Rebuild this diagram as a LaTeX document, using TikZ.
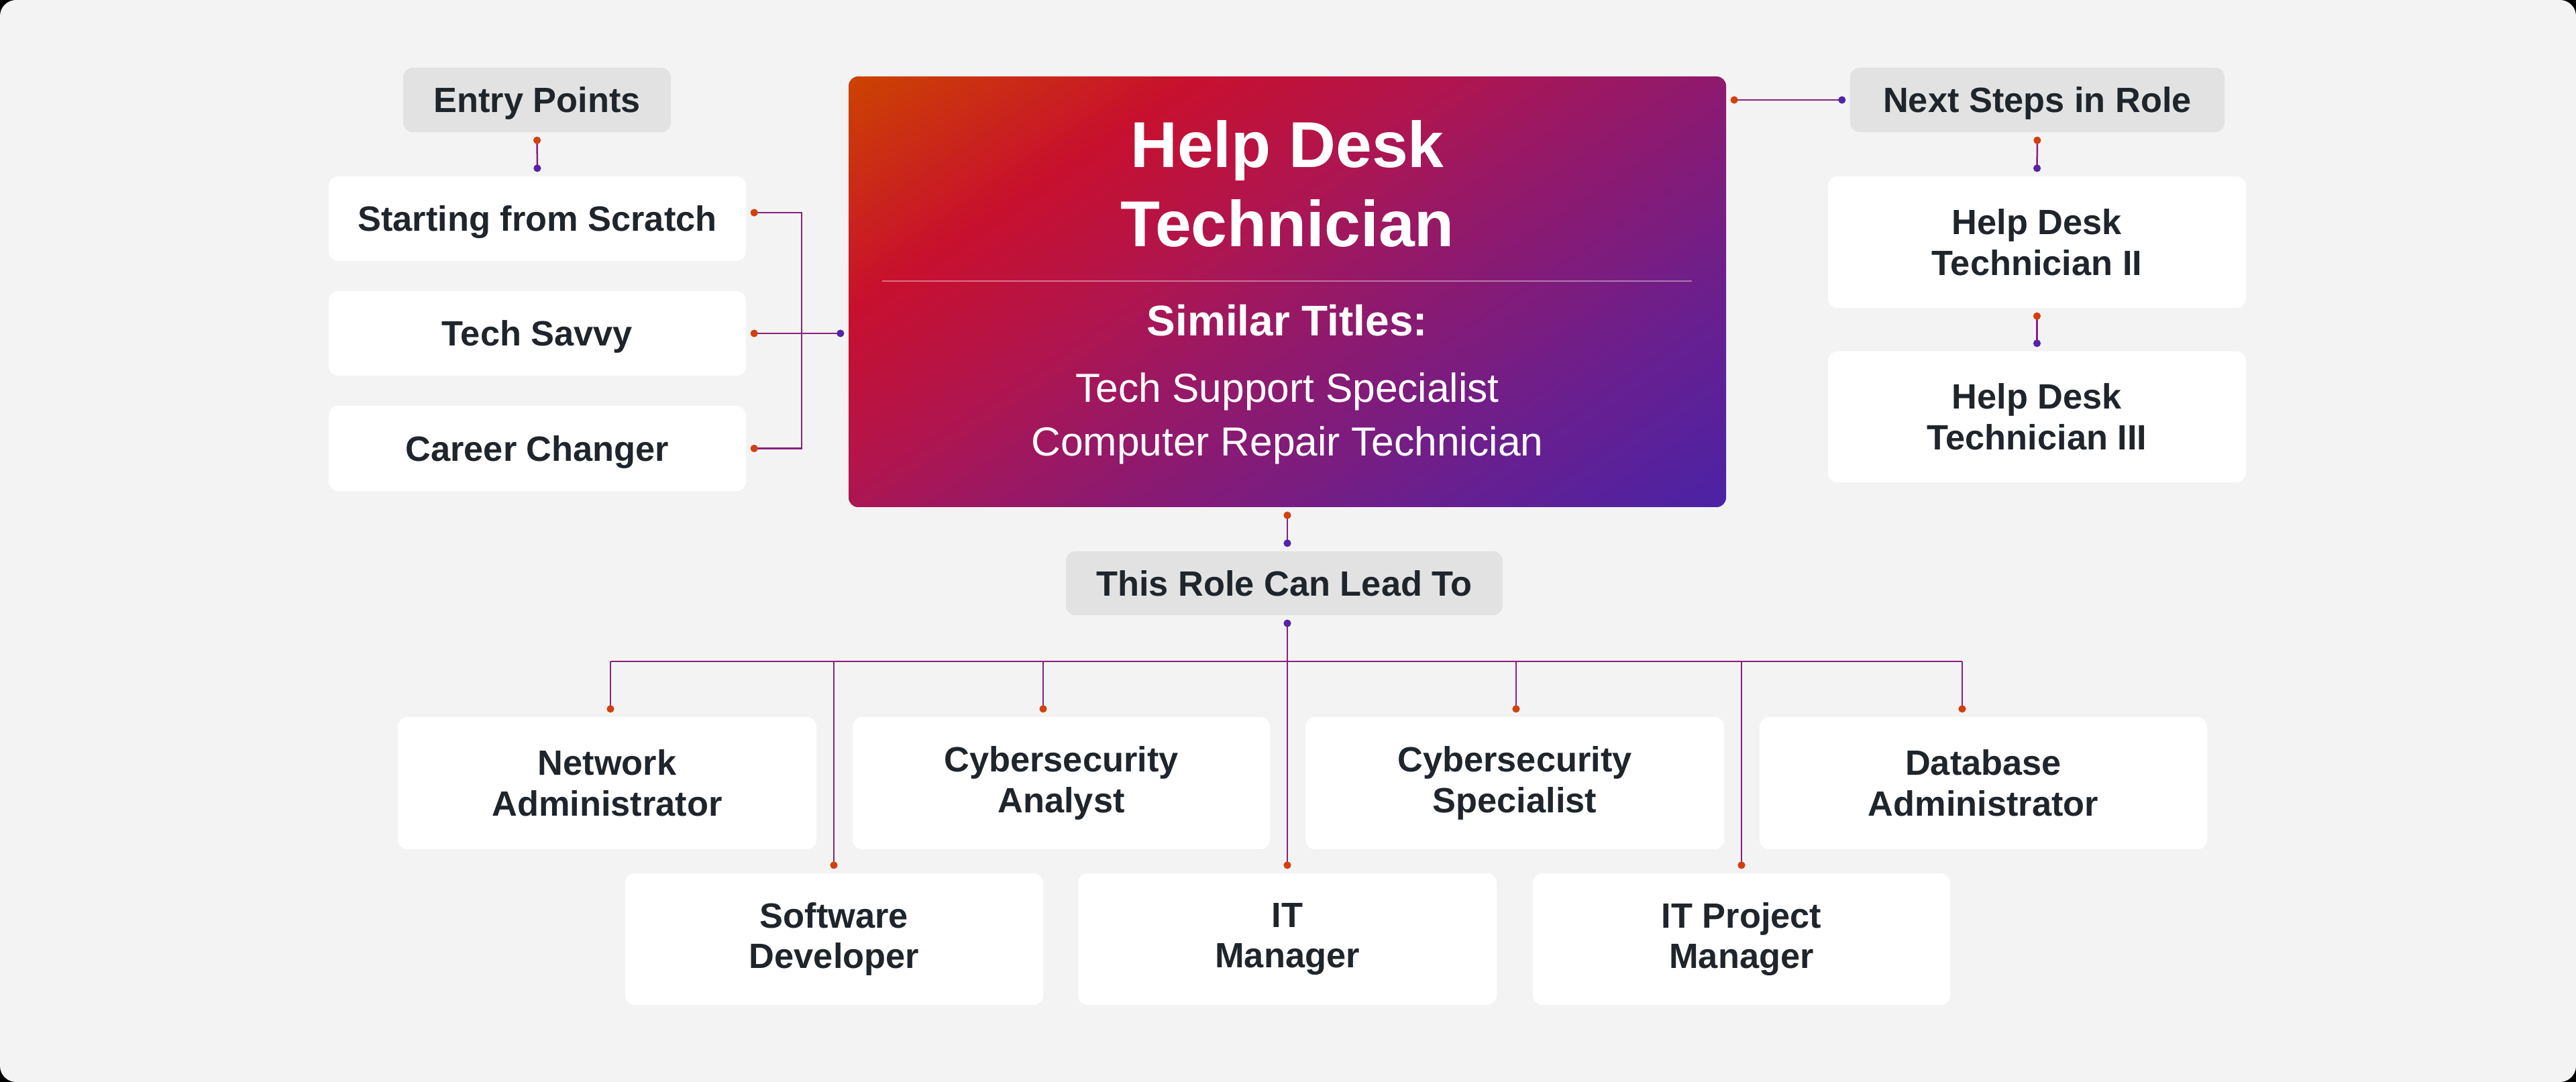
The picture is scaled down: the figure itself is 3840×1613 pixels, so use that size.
\documentclass[tikz,border=0pt]{standalone}
\usepackage{fontspec}
\setmainfont{Liberation Sans}
\usepackage{tikz}
\usetikzlibrary{arrows.meta}
\definecolor{bgcol}{HTML}{F3F3F3}
\definecolor{tagcol}{HTML}{E2E2E2}
\definecolor{inkcol}{HTML}{1F252B}
\definecolor{linkcol}{HTML}{8A1F7C}
\definecolor{dotred}{HTML}{D2400E}
\definecolor{dotblue}{HTML}{5523A8}
\definecolor{gOrange}{HTML}{CC4400}
\definecolor{gRed}{HTML}{C8102E}
\definecolor{gRose}{HTML}{B0154E}
\definecolor{gMag}{HTML}{9C1862}
\definecolor{gPlum}{HTML}{8A1A72}
\definecolor{gViolet}{HTML}{6A1F8E}
\definecolor{gBlue}{HTML}{4A23A6}
\pgfdeclarehorizontalshading{hdtshade}{100bp}{color(0bp)=(gOrange); color(15bp)=(gOrange);
  color(31bp)=(gRed); color(43bp)=(gRose); color(50bp)=(gMag); color(57bp)=(gPlum);
  color(70bp)=(gViolet); color(85bp)=(gBlue); color(100bp)=(gBlue)}
\tikzset{card/.style = {rounded corners=1.4mm, fill=white, inner sep=0pt, align=center,
                        text=inkcol, font=\fontsize{14.9}{17.3}\selectfont\bfseries},
         onerow/.style = {text depth=0pt},
         tag/.style = {card, onerow, fill=tagcol},
         mainbox/.style = {rounded corners=1.4mm, shade, shading=hdtshade, shading angle=-56,
                           inner sep=0pt, minimum width=130.8mm, minimum height=64.2mm},
         titletxt/.style = {text=white, inner sep=0pt, anchor=base,
                            font=\fontsize{27.5}{33.6}\selectfont\bfseries},
         simtxt/.style = {text=white, inner sep=0pt, anchor=base,
                          font=\fontsize{18.2}{21}\selectfont\bfseries},
         subtxt/.style = {text=white, inner sep=0pt, anchor=base,
                          font=\fontsize{17.2}{22.8}\selectfont},
         link/.style = {draw=linkcol, line width=0.25mm},
         dotlink/.style = {link, {Circle[color=dotred,length=1.1mm]}-{Circle[color=dotblue,length=1.1mm]},
                           shorten <=0.6mm, shorten >=0.6mm},
         redstart/.style = {link, {Circle[color=dotred,length=1.1mm]}-, shorten <=0.6mm},
         bluestart/.style = {link, {Circle[color=dotblue,length=1.1mm]}-, shorten <=0.6mm},
         drop/.style = {link, -{Circle[color=dotred,length=1.1mm]}, shorten >=0.6mm}}

\begin{document}
\begin{tikzpicture}[x=0.1mm, y=-0.1mm]
    \useasboundingbox (0,0) rectangle (3840,1613);
    \fill [black] (0,0) rectangle (3840,1613);
    \fill [bgcol, rounded corners=2.4mm] (0,0) rectangle (3840,1613);

    % entry points
    \node [tag, minimum width=39.9mm, minimum height=9.6mm] (entry) at (800.5,149) {Entry Points};
    \node [card, onerow, minimum width=62.2mm, minimum height=12.6mm] (start) at (801,326) {Starting from Scratch};
    \node [card, onerow, minimum width=62.2mm, minimum height=12.6mm] (savvy) at (801,497) {Tech Savvy};
    \node [card, onerow, minimum width=62.2mm, minimum height=12.7mm] (changer) at (801,668.5) {Career Changer};

    % the role itself
    \node [mainbox] (main) at (1919,435) {};
    \node [titletxt] (ttlA) at (1919,250) {Help Desk};
    \node [titletxt] (ttlB) at (1919,368) {Technician};
    \draw [white, opacity=0.4, line width=0.2mm] (1315,419) -- (2522,419);
    \node [simtxt] (sim) at (1919,501) {Similar Titles:};
    \node [subtxt] (subA) at (1919,600) {Tech Support Specialist};
    \node [subtxt] (subB) at (1919,680) {Computer Repair Technician};

    % next steps
    \node [tag, minimum width=55.8mm, minimum height=9.6mm] (next) at (3037,149) {Next Steps in Role};
    \node [card, minimum width=62.3mm, minimum height=19.6mm] (hdt2) at (3036.5,361) {Help Desk\\Technician II};
    \node [card, minimum width=62.3mm, minimum height=19.5mm] (hdt3) at (3036.5,621.5) {Help Desk\\Technician III};

    % can lead to
    \node [tag, minimum width=65.1mm, minimum height=9.5mm] (lead) at (1914.5,869.5) {This Role Can Lead To};
    \node [card, minimum width=62.4mm, minimum height=19.7mm] (network) at (905,1167.5) {Network\\Administrator};
    \node [card, minimum width=62.2mm, minimum height=19.7mm] (analyst) at (1582,1167.5) {Cybersecurity\\Analyst};
    \node [card, minimum width=62.4mm, minimum height=19.7mm] (specialist) at (2258,1167.5) {Cybersecurity\\Specialist};
    \node [card, minimum width=66.7mm, minimum height=19.7mm] (database) at (2956.5,1167.5) {Database\\Administrator};
    \node [card, minimum width=62.3mm, minimum height=19.6mm] (software) at (1243.5,1400) {Software\\Developer};
    \node [card, minimum width=62.4mm, minimum height=19.6mm] (itmgr) at (1919,1400) {IT\\Manager};
    \node [card, minimum width=62.2mm, minimum height=19.6mm] (itproj) at (2596,1400) {IT Project\\Manager};

    % connectors
    \coordinate (lj) at (1195,497);
    \coordinate (bus) at (1919,986);
    \coordinate (busL) at (910,986);
    \coordinate (busR) at (2925,986);

    \draw [dotlink] (entry.south) -- (start.north);
    \draw [redstart] ([yshift=0.9mm]start.east) -| (lj);
    \draw [redstart] (changer.east) -| (lj);
    \draw [dotlink] (savvy.east) -- (main.west |- savvy.east);

    \draw [dotlink] (next.west -| main.east) -- (next.west);
    \draw [dotlink] (next.south) -- (hdt2.north);
    \draw [dotlink] (hdt2.south) -- (hdt3.north);

    \draw [dotlink] (main.south) -- (main.south |- lead.north);
    \draw [bluestart] (main.south |- lead.south) -- (bus);
    \draw [link] (busL) -- (busR);
    \foreach \nd/\x in {network/910, analyst/1555, specialist/2260, database/2925,
                        software/1243, itmgr/1919, itproj/2596}
      \draw [drop] (\x,986) -- (\x,986 |- \nd.north);
\end{tikzpicture}
\end{document}
